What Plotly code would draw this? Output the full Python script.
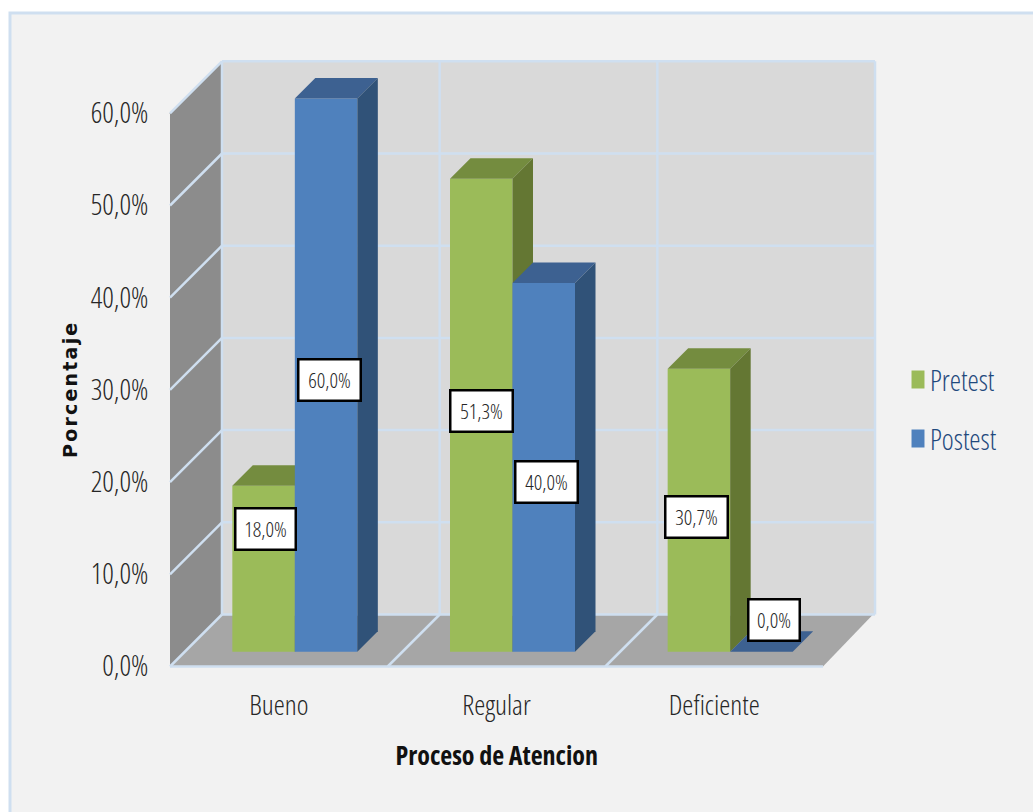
import plotly.graph_objects as go

# ---- data ----
categories = ["Bueno", "Regular", "Deficiente"]
pretest = [18.0, 51.3, 30.7]
postest = [60.0, 40.0, 0.0]
y_ticks = [0, 10, 20, 30, 40, 50, 60]
y_tick_labels = ["0,0%", "10,0%", "20,0%", "30,0%", "40,0%", "50,0%", "60,0%"]
pretest_labels = ["18,0%", "51,3%", "30,7%"]
postest_labels = ["60,0%", "40,0%", "0,0%"]

# ---- geometry (pixels of the 1033x812 page) ----
W, H = 1033, 812
PX_LEFT, PX_RIGHT = 170.0, 823.0
PX_ZERO, PX_UNIT = 666.5, 9.22
CAT_PX = (PX_RIGHT - PX_LEFT) / 3
ux = lambda px: px / CAT_PX        # pixels -> category units
uy = lambda px: px / PX_UNIT       # pixels -> value units

y_top = max(y_ticks)
L, R = -0.5, 2.5
xr = [L - ux(PX_LEFT), L + ux(W - PX_LEFT)]
yr = [-uy(H - PX_ZERO), uy(PX_ZERO)]

WALL_DX, WALL_DY = ux(52), uy(52)
BAR_SHIFT = ux(16)
BAR_W = ux(62.5)
BAR_BASE = uy(14.8)
BAR_DX, BAR_DY = ux(20.5), uy(20.5)

C_WALL_BACK = "#d9d9d9"
C_WALL_LEFT = "#8c8c8c"
C_FLOOR = "#a6a6a6"
C_GRID = "#cfdff0"
C_GREEN = ("#9bbb59", "#748c3f", "#647733")
C_BLUE = ("#4f81bd", "#3d6191", "#305278")
FONT = "Open Sans"

fig = go.Figure()


def poly(xs, ys, color, axes=("x", "y")):
    fig.add_trace(go.Scatter(
        x=xs + xs[:1], y=ys + ys[:1], mode="lines", fill="toself", fillcolor=color,
        line=dict(width=0, color=color), hoverinfo="skip", showlegend=False,
        xaxis=axes[0], yaxis=axes[1]))


def lines(segments, width=2.5):
    xs, ys = [], []
    for (x0, y0, x1, y1) in segments:
        xs += [x0, x1, None]
        ys += [y0, y1, None]
    fig.add_trace(go.Scatter(
        x=xs, y=ys, mode="lines", line=dict(color=C_GRID, width=width),
        hoverinfo="skip", showlegend=False))


# walls and floor
poly([L + WALL_DX, R + WALL_DX, R + WALL_DX, L + WALL_DX],
     [WALL_DY, WALL_DY, y_top + WALL_DY, y_top + WALL_DY], C_WALL_BACK)
poly([L, L + WALL_DX, L + WALL_DX, L], [0, WALL_DY, y_top + WALL_DY, y_top], C_WALL_LEFT)
poly([L, R, R + ux(50), L + WALL_DX], [0, 0, WALL_DY, WALL_DY], C_FLOOR)

# gridlines
grid = []
for t in y_ticks[1:]:
    grid.append((L, t, L + WALL_DX, t + WALL_DY))
    grid.append((L + WALL_DX, t + WALL_DY, R + WALL_DX, t + WALL_DY))
for k in range(len(categories) + 1):
    xk = L + k
    grid.append((xk + WALL_DX, WALL_DY, xk + WALL_DX, y_top + WALL_DY))
    if k < len(categories):
        grid.append((xk, 0, xk + WALL_DX, WALL_DY))
grid.append((L, 0, R, 0))
grid.append((L + WALL_DX, WALL_DY, R + WALL_DX, WALL_DY))
lines(grid)


def series(name, values, colors, offset, axes):
    idx = list(range(len(values)))
    fig.add_trace(go.Bar(
        x=idx, y=values, base=BAR_BASE, name=name, width=BAR_W, offset=offset,
        marker=dict(color=colors[0], line=dict(width=0)),
        legendgroup=name, xaxis=axes[0], yaxis=axes[1], hoverinfo="skip"))
    for i, v in zip(idx, values):
        x0 = i + offset
        x1 = x0 + BAR_W
        top = BAR_BASE + v
        poly([x0, x1, x1 + BAR_DX, x0 + BAR_DX], [top, top, top + BAR_DY, top + BAR_DY], colors[1], axes)
        if v > 0:
            poly([x1, x1 + BAR_DX, x1 + BAR_DX, x1],
                 [BAR_BASE, BAR_BASE + BAR_DY, top + BAR_DY, top], colors[2], axes)


series("Pretest", pretest, C_GREEN, BAR_SHIFT - BAR_W, ("x2", "y2"))
series("Postest", postest, C_BLUE, BAR_SHIFT, ("x3", "y3"))

# data labels (hand placed in the original, so shifted from the bar centre)
pre_shift = [(2, 40), (0, 4), (-2, -7)]
post_shift = [(3, -5), (3, -15), (13, 32)]
pre_size = [(58, 39), (60, 39), (60, 39)]
post_size = [(60, 39), (60, 39), (49, 39)]
annots = []
for labels, values, offset, shifts, sizes in (
        (pretest_labels, pretest, BAR_SHIFT - BAR_W / 2, pre_shift, pre_size),
        (postest_labels, postest, BAR_SHIFT + BAR_W / 2, post_shift, post_size)):
    for i, (txt, v) in enumerate(zip(labels, values)):
        annots.append(dict(
            x=i + offset, y=BAR_BASE + v / 2, xref="x3", yref="y3", text=txt, showarrow=False,
            xshift=shifts[i][0], yshift=shifts[i][1], width=sizes[i][0], height=sizes[i][1],
            bgcolor="white", bordercolor="black", borderwidth=2.5, borderpad=0,
            font=dict(family=FONT, size=21, color="#262626")))

# axis titles
annots.append(dict(x=1, y=-uy(88), xref="x", yref="y", text="<b>Proceso de Atencion</b>", showarrow=False,
                   font=dict(size=26, family=FONT, color="#111111")))
annots.append(dict(x=L - ux(100), y=y_top / 2, xref="x", yref="y", text="<b>Porcentaje</b>", textangle=-90,
                   showarrow=False, font=dict(size=19, family="DejaVu Sans", color="#111111")))

axis_common = dict(showgrid=False, zeroline=False, showline=False, ticks="outside", automargin=False,
                   tickcolor="rgba(0,0,0,0)")
fig.update_layout(
    width=W, height=H, margin=dict(l=0, r=0, t=0, b=0), autosize=False,
    paper_bgcolor="white", plot_bgcolor="rgba(0,0,0,0)", barmode="overlay",
    font=dict(family=FONT, color="#262626"),
    xaxis=dict(domain=[0, 1], range=xr, anchor="free", position=(H - PX_ZERO) / H,
               tickfont=dict(size=28, family=FONT),
               tickvals=list(range(len(categories))), ticktext=categories, ticklen=14, **axis_common),
    yaxis=dict(domain=[0, 1], range=yr, anchor="free", position=PX_LEFT / W,
               tickfont=dict(size=28.5, family=FONT),
               tickvals=y_ticks, ticktext=y_tick_labels, ticklen=16, **axis_common),
    xaxis2=dict(domain=[0, 1], range=xr, overlaying="x", visible=False, anchor="y2"),
    yaxis2=dict(domain=[0, 1], range=yr, overlaying="y", visible=False, anchor="x2"),
    xaxis3=dict(domain=[0, 1], range=xr, overlaying="x", visible=False, anchor="y3"),
    yaxis3=dict(domain=[0, 1], range=yr, overlaying="y", visible=False, anchor="x3"),
    showlegend=True,
    legend=dict(x=890 / W, y=(H - 354.5) / H, xanchor="left", yanchor="top",
                bgcolor="rgba(0,0,0,0)", traceorder="grouped", tracegroupgap=19,
                font=dict(size=28.5, family=FONT, color="#1f497d")),
    annotations=annots,
    shapes=[dict(type="rect", xref="paper", yref="paper", layer="below",
                 x0=10 / W, x1=1.02, y0=-0.02, y1=(H - 13) / H,
                 fillcolor="#f2f2f2", line=dict(color=C_GRID, width=3))],
)

CSS = ('text[style*="Open Sans"]{font-stretch:75%}'
       '.xtick text,.ytick text,.legendtext,.annotation-text{font-weight:350 !important}'
       'text[style*="DejaVu"]{letter-spacing:2.2px}')
POST = ("document.body.style.margin='0';"
        "var s=document.createElement('style');s.textContent='" + CSS + "';document.head.appendChild(s);"
        "document.querySelectorAll('.legendsymbols path').forEach(function(p){p.setAttribute('transform','translate(28,0) scale(1.08,1.5)');});")
fig.write_html("out.html", config={"displayModeBar": False}, post_script=POST)
